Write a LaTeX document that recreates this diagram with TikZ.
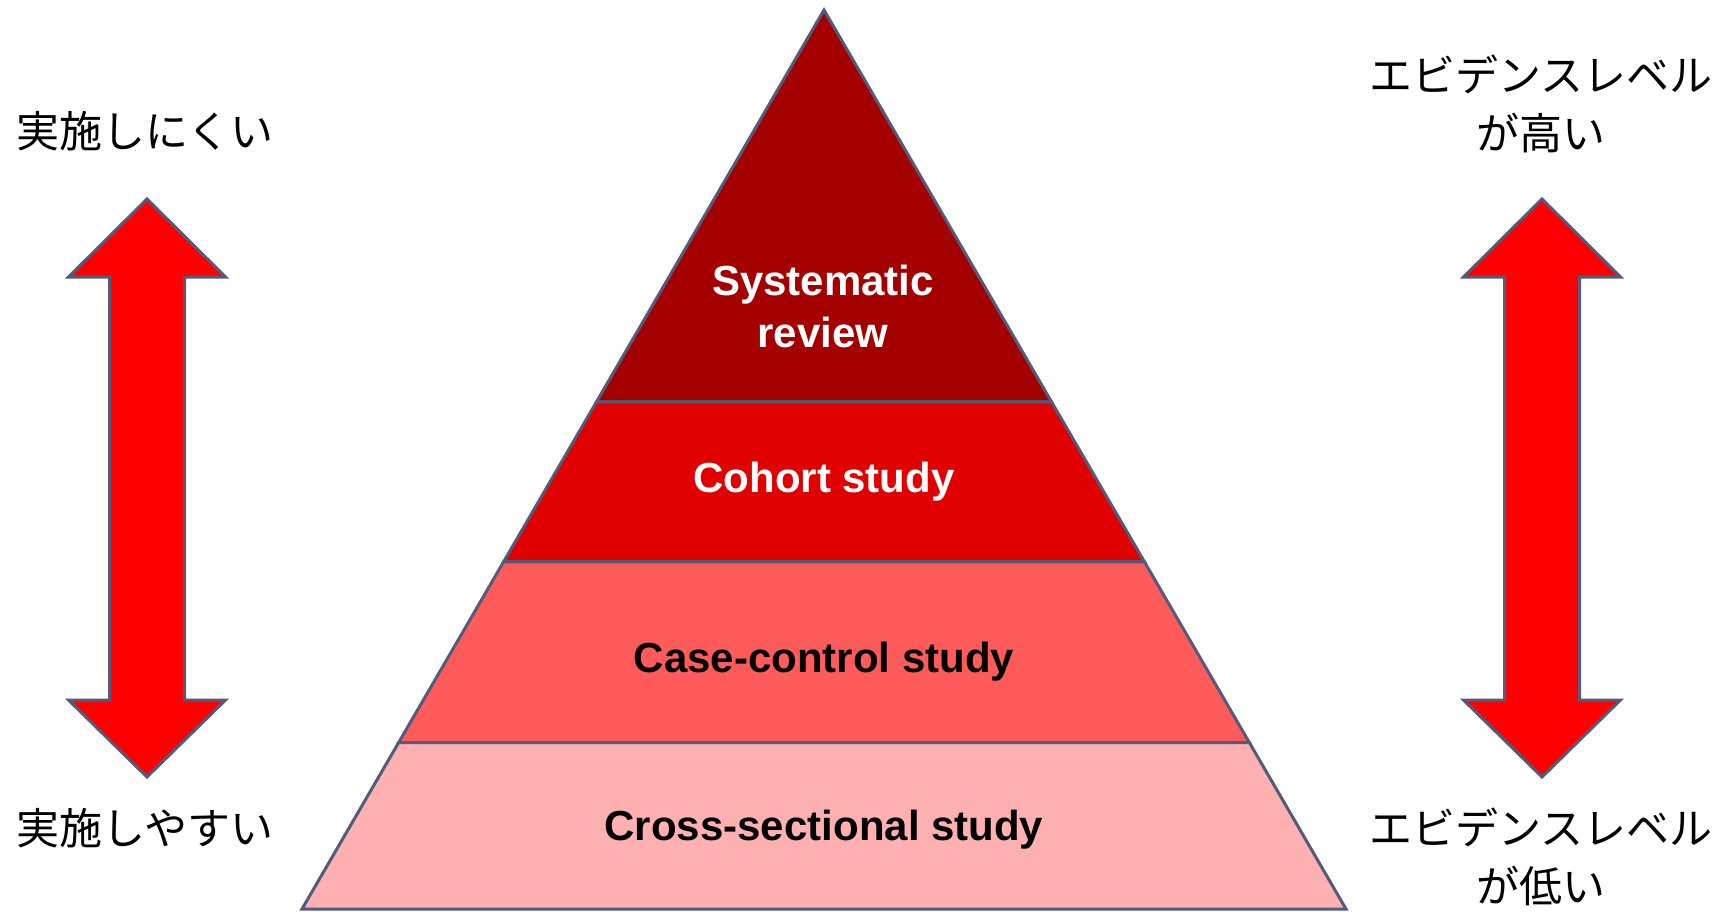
\documentclass[tikz,border=0pt]{standalone}
\usepackage{fontspec}
\usetikzlibrary{calc}
\setmainfont{Liberation Sans}
\newfontfamily\jpfont{Noto Sans CJK JP}
\begin{document}
\begin{tikzpicture}[x=1pt,y=-1pt,
  edge/.style={draw=edgeblue,line width=3pt,line join=miter},
  layerlabel/.style={font=\fontsize{42}{52}\selectfont\bfseries,align=center},
  jplabel/.style={font=\jpfont\fontsize{43}{58}\selectfont,align=center}]
\definecolor{edgeblue}{HTML}{525C7A}
\definecolor{tier1}{HTML}{A50000}
\definecolor{tier2}{HTML}{E10000}
\definecolor{tier3}{HTML}{FF5B5B}
\definecolor{tier4}{HTML}{FFB0B0}
\definecolor{arrowred}{HTML}{FF0000}
\useasboundingbox (0,0) rectangle (1735,911);

% pyramid corners and tier boundaries
\coordinate (apex) at (824,10);
\coordinate (bl) at (302,909);
\coordinate (br) at (1346,909);
\coordinate (l1) at ($(apex)!0.4360!(bl)$);
\coordinate (r1) at ($(apex)!0.4360!(br)$);
\coordinate (l2) at ($(apex)!0.6140!(bl)$);
\coordinate (r2) at ($(apex)!0.6140!(br)$);
\coordinate (l3) at ($(apex)!0.8148!(bl)$);
\coordinate (r3) at ($(apex)!0.8148!(br)$);

\path[edge,fill=tier1] (apex) -- (r1) -- (l1) -- cycle;
\path[edge,fill=tier2] (l1) -- (r1) -- (r2) -- (l2) -- cycle;
\path[edge,fill=tier3] (l2) -- (r2) -- (r3) -- (l3) -- cycle;
\path[edge,fill=tier4] (l3) -- (r3) -- (br) -- (bl) -- cycle;

\node[layerlabel,text=white] (sr) at (823,306) {Systematic\\review};
\node[layerlabel,text=white] (co) at (824,482) {Cohort study};
\node[layerlabel] (cc) at (824,662) {Case-control study};
\node[layerlabel] (cs) at (824,830) {Cross-sectional study};

% double-headed block arrows
\foreach \cx/\nm in {147/la,1542/ra}{
  \path[edge,fill=arrowred]
    (\cx,199) -- (\cx+78.5,277) -- (\cx+37.5,277) -- (\cx+37.5,700)
    -- (\cx+78.5,700) -- (\cx,777) -- (\cx-78.5,700) -- (\cx-37.5,700)
    -- (\cx-37.5,277) -- (\cx-78.5,277) -- cycle;
}

\node[jplabel] (hard) at (145,131) {実施しにくい};
\node[jplabel] (easy) at (145,828) {実施しやすい};
\node[jplabel] (high) at (1541,104) {エビデンスレベル\\が高い};
\node[jplabel] (low) at (1541,857) {エビデンスレベル\\が低い};
\end{tikzpicture}
\end{document}
